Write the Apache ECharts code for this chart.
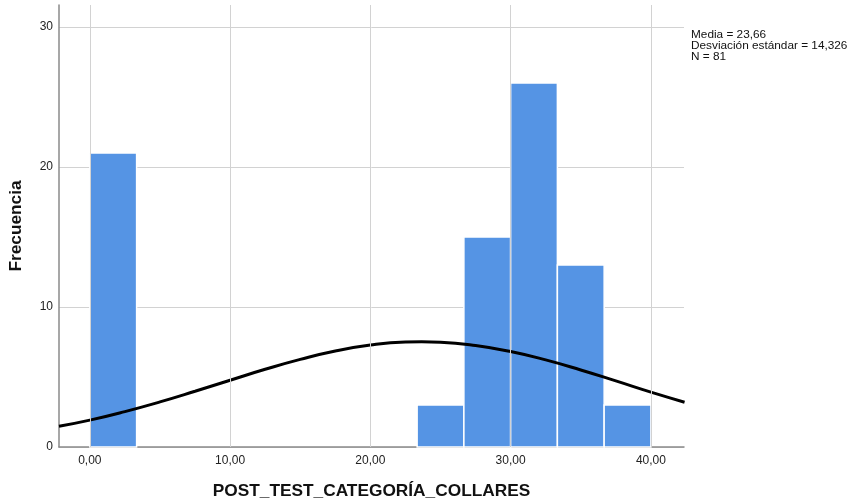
<!DOCTYPE html>
<html>
<head>
<meta charset="utf-8">
<script src="https://cdn.jsdelivr.net/npm/echarts@6/dist/echarts.min.js"></script>
<style>
  html, body { margin: 0; padding: 0; background: #fff; }
  #chart { width: 847px; height: 503px; }
</style>
</head>
<body>
<div id="chart"></div>
<script>
// Histogram bins: [start, end] of each class and its frequency
const binStarts = [0, 23.333, 26.667, 30, 33.333, 36.667];
const binEnds   = [3.333, 26.667, 30, 33.333, 36.667, 40];
const frequencies = [21, 3, 15, 26, 13, 3];

// Fitted normal curve, sampled along the x axis
const curveX = [-2.2, 0, 2.5, 5, 7.5, 10, 12.5, 15, 17.5, 20, 22.5, 23.66, 25, 27.5, 30, 32.5, 35, 37.5, 40, 42.4];
const curveY = [1.48, 1.92, 2.53, 3.22, 3.98, 4.77, 5.55, 6.26, 6.86, 7.28, 7.50, 7.52, 7.49, 7.25, 6.82, 6.22, 5.50, 4.72, 3.92, 3.20];

// Axis ticks
const xTicks = [0, 10, 20, 30, 40];
const xTickLabels = ['0,00', '10,00', '20,00', '30,00', '40,00'];
const yTicks = [0, 10, 20, 30];

// Summary statistics shown beside the plot
const statLines = ['Media = 23,66', 'Desviación estándar = 14,326', 'N = 81'];

const barData = binStarts.map((s, i) => [s, binEnds[i], frequencies[i]]);
const curveData = curveX.map((x, i) => [x, curveY[i]]);

const chart = echarts.init(document.getElementById('chart'));
const FONT = '"Liberation Sans", Arial, sans-serif';

chart.setOption({
  animation: false,
  grid: { left: 59, right: 163, top: 5, bottom: 56, containLabel: false, outerBoundsMode: 'none' },
  xAxis: {
    type: 'value',
    min: -2.2,
    max: 42.36,
    name: 'POST_TEST_CATEGORÍA_COLLARES',
    nameLocation: 'middle',
    nameGap: 36,
    nameTextStyle: { fontFamily: FONT, fontSize: 17.3, fontWeight: 'bold', color: '#111' },
    axisLine: { show: true, onZero: false, lineStyle: { color: '#8a8a8a', width: 1.5 } },
    axisTick: { show: false, customValues: xTicks },
    axisLabel: {
      customValues: xTicks,
      formatter: v => xTickLabels[xTicks.indexOf(v)] ?? '',
      fontFamily: FONT, fontSize: 12, color: '#222', margin: 8
    },
    splitLine: { show: false }
  },
  yAxis: {
    type: 'value',
    min: 0,
    max: 31.57,
    interval: 10,
    name: 'Frecuencia',
    nameLocation: 'middle',
    nameGap: 34.5,
    nameRotate: 90,
    nameTextStyle: { fontFamily: FONT, fontSize: 17.3, fontWeight: 'bold', color: '#111' },
    axisLine: { show: true, onZero: false, lineStyle: { color: '#8a8a8a', width: 1.5 } },
    axisTick: { show: false },
    axisLabel: {
      fontFamily: FONT, fontSize: 12, color: '#222', margin: 6,
      showMaxLabel: false,
      formatter: v => (yTicks.includes(v) ? String(v) : '')
    },
    splitLine: { show: true, showMaxLine: false, lineStyle: { color: '#d2d2d2', width: 1 } }
  },
  series: [
    {
      // vertical grid lines at the labelled x ticks
      type: 'line',
      data: [],
      silent: true,
      markLine: {
        symbol: 'none',
        silent: true,
        label: { show: false },
        lineStyle: { color: '#d2d2d2', type: 'solid', width: 1 },
        data: xTicks.map(x => ({ xAxis: x }))
      },
      z: 1
    },
    {
      type: 'custom',
      z: 2,
      renderItem: function (params, api) {
        const p0 = api.coord([api.value(0), 0]);
        const p1 = api.coord([api.value(1), api.value(2)]);
        return {
          type: 'rect',
          shape: { x: p0[0], y: p1[1], width: p1[0] - p0[0], height: p0[1] - p1[1] },
          style: { fill: '#5594e4', stroke: '#ffffff', lineWidth: 1.5 }
        };
      },
      encode: { x: [0, 1], y: 2 },
      data: barData
    },
    {
      type: 'line',
      z: 3,
      smooth: true,
      symbol: 'none',
      clip: true,
      lineStyle: { color: '#000', width: 3 },
      data: curveData
    }
  ],
  graphic: [
    {
      type: 'text',
      left: 691,
      top: 29,
      style: {
        text: statLines.join('\n'),
        font: '11.8px ' + FONT,
        fill: '#111',
        lineHeight: 11
      }
    }
  ]
});
</script>
</body>
</html>
